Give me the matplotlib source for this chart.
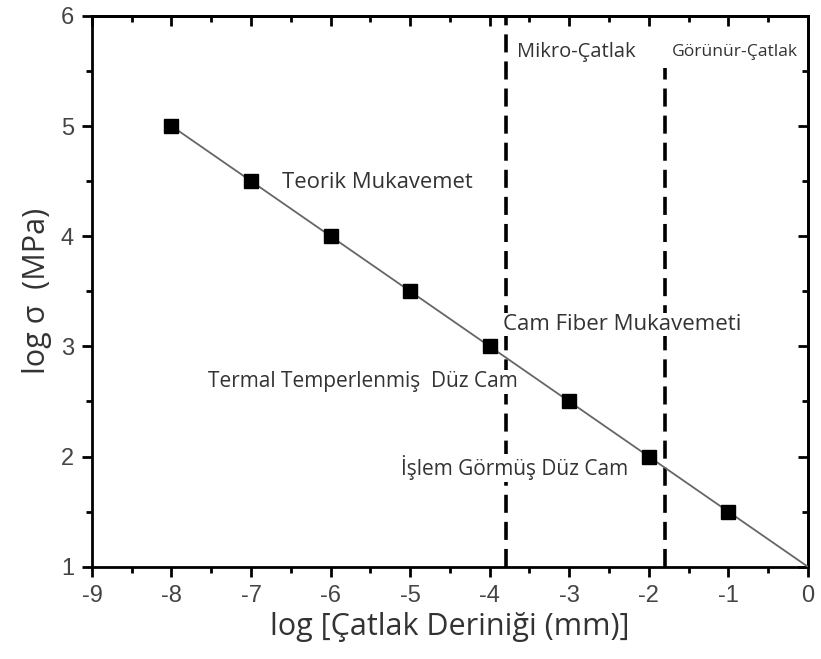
import numpy as np
import matplotlib.pyplot as plt
from matplotlib.ticker import MultipleLocator

plt.rcParams['axes.unicode_minus'] = False

# data
crack_depth = [-8, -7, -6, -5, -4, -3, -2, -1]
log_sigma = [5.0, 4.5, 4.0, 3.5, 3.0, 2.5, 2.0, 1.5]
fit_x = [-8, 0]
fit_y = [5.0, 1.0]
boundaries = [-3.8, -1.8]

labels = [
    ("Mikro-Çatlak", -3.66, 5.67, 14.5, False),
    ("Görünür-Çatlak", -1.71, 5.67, 12.6, False),
    ("Teorik Mukavemet", -6.61, 4.49, 15.8, False),
    ("Cam Fiber Mukavemeti", -3.83, 3.20, 16, True),
    ("Termal Temperlenmiş  Düz Cam", -7.54, 2.68, 15, True),
    ("İşlem Görmüş Düz Cam", -5.12, 1.90, 15, True),
]

fig = plt.figure(figsize=(8.21, 6.59), dpi=100)
ax = fig.add_axes([0.112, 0.140, 0.872, 0.836])

ax.plot(fit_x, fit_y, color='#666666', lw=1.3, zorder=3)
ax.plot(crack_depth, log_sigma, ls='none', marker='s', ms=10,
        color='black', zorder=4)

# region boundaries (second one starts just below the top)
ax.axvline(boundaries[0], color='black', lw=2.6, ls=(0, (5, 2.5)), zorder=1)
ax.axvline(boundaries[1], ymax=0.905, color='black', lw=2.6,
           ls=(0, (5, 2.5)), zorder=1)

for txt, x, y, fs, box in labels:
    t = ax.text(x, y, txt, fontsize=fs, family='Open Sans', color='#333333',
                va='center', ha='left', zorder=2)
    if box:
        t.set_bbox(dict(facecolor='white', edgecolor='none', pad=1))

ax.set_xlim(-9, 0)
ax.set_ylim(1, 6)
ax.xaxis.set_major_locator(MultipleLocator(1))
ax.xaxis.set_minor_locator(MultipleLocator(0.5))
ax.yaxis.set_major_locator(MultipleLocator(1))
ax.yaxis.set_minor_locator(MultipleLocator(0.5))

for s in ax.spines.values():
    s.set_linewidth(2)

ax.tick_params(which='both', direction='out', width=2, labelsize=17,
               colors='black', labelcolor='#444444', pad=6)
ax.tick_params(which='major', length=7)
ax.tick_params(which='minor', length=4)
for lab in ax.get_xticklabels() + ax.get_yticklabels():
    lab.set_family('Liberation Sans')

# inward ticks on top and right
top = ax.secondary_xaxis('top')
top.xaxis.set_major_locator(MultipleLocator(1))
top.xaxis.set_minor_locator(MultipleLocator(0.5))
top.tick_params(which='both', direction='in', width=2, labeltop=False)
top.tick_params(which='major', length=7)
top.tick_params(which='minor', length=4)
right = ax.secondary_yaxis('right')
right.yaxis.set_major_locator(MultipleLocator(1))
right.yaxis.set_minor_locator(MultipleLocator(0.5))
right.tick_params(which='both', direction='in', width=2, labelright=False)
right.tick_params(which='major', length=7)
right.tick_params(which='minor', length=4)
top.spines['top'].set_linewidth(2)
right.spines['right'].set_linewidth(2)

ax.set_xlabel('log [Çatlak Deriniği (mm)]', fontsize=22, family='Open Sans',
              color='#333333', labelpad=4)
ax.set_ylabel('log σ  (MPa)', fontsize=22, family='Open Sans',
              color='#333333', labelpad=6)

fig.savefig('out.png', dpi=100)
